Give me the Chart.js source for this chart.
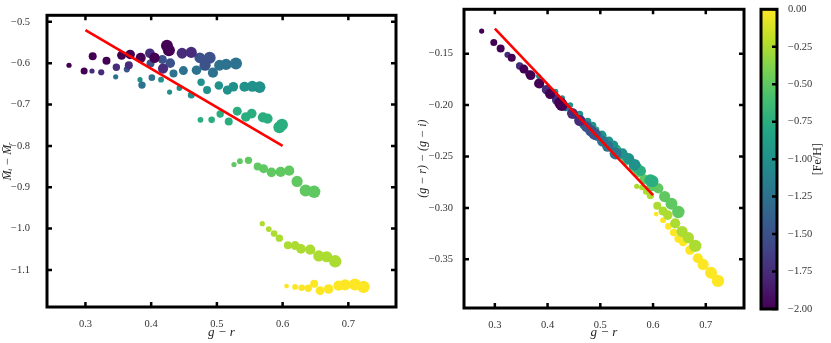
<!DOCTYPE html>
<html>
<head>
<meta charset="utf-8">
<script src="https://cdn.jsdelivr.net/npm/chart.js@4.4.1/dist/chart.umd.min.js"></script>
<style>
  html, body { margin: 0; padding: 0; background: #fff; }
  #quadro { position: relative; width: 831px; height: 343px; overflow: hidden; }
  #quadro canvas { position: absolute; top: 0; }
</style>
</head>
<body>
<div id="quadro">
  <canvas id="painelEsq" width="400" height="343" style="left:0px"></canvas>
  <canvas id="painelDir" width="355" height="343" style="left:400px"></canvas>
  <canvas id="barraCor" width="76" height="343" style="left:755px"></canvas>
</div>
<script>
// metallicity of each group of models ([Fe/H]), one row per group below
var metalicidade = [-2.0, -1.75, -1.5, -1.25, -1.0, -0.75, -0.5, -0.25, 0.0];

// g - r colour of every point (same x in both panels)
var corGR = [
  [0.275, 0.298, 0.311, 0.332, 0.355, 0.368, 0.384, 0.405, 0.424, 0.427],
  [0.310, 0.324, 0.347, 0.366, 0.398, 0.418, 0.447, 0.461],
  [0.363, 0.399, 0.417, 0.429, 0.474, 0.482, 0.489],
  [0.346, 0.386, 0.401, 0.434, 0.449, 0.469, 0.494, 0.504, 0.514, 0.529],
  [0.383, 0.415, 0.428, 0.443, 0.461, 0.476, 0.485, 0.503, 0.516, 0.525, 0.542, 0.554, 0.565],
  [0.475, 0.492, 0.505, 0.518, 0.531, 0.544, 0.553, 0.570, 0.577, 0.595, 0.599],
  [0.526, 0.535, 0.548, 0.562, 0.571, 0.583, 0.597, 0.610, 0.622, 0.635, 0.648],
  [0.569, 0.579, 0.587, 0.595, 0.608, 0.619, 0.628, 0.642, 0.655, 0.667, 0.680],
  [0.606, 0.619, 0.629, 0.639, 0.648, 0.657, 0.670, 0.685, 0.695, 0.710, 0.723]
];

// left panel: M_i - M_r
var deltaM = [
  [-0.605, -0.619, -0.583, -0.594, -0.581, -0.579, -0.587, -0.587, -0.558, -0.569],
  [-0.619, -0.622, -0.610, -0.605, -0.576, -0.613, -0.576, -0.574],
  [-0.615, -0.601, -0.591, -0.600, -0.587, -0.605, -0.587],
  [-0.633, -0.653, -0.635, -0.625, -0.618, -0.617, -0.623, -0.605, -0.603, -0.601],
  [-0.640, -0.640, -0.670, -0.660, -0.677, -0.646, -0.665, -0.654, -0.665, -0.657, -0.657, -0.656, -0.658],
  [-0.737, -0.737, -0.723, -0.741, -0.716, -0.730, -0.722, -0.731, -0.734, -0.755, -0.749],
  [-0.845, -0.837, -0.835, -0.850, -0.855, -0.864, -0.863, -0.860, -0.886, -0.908, -0.911],
  [-0.988, -1.001, -1.012, -1.023, -1.040, -1.041, -1.049, -1.051, -1.066, -1.068, -1.079],
  [-1.139, -1.141, -1.143, -1.144, -1.133, -1.150, -1.146, -1.138, -1.136, -1.135, -1.141]
];

// right panel: (g - r) - (g - i)
var deltaCor = [
  [-0.128, -0.139, -0.145, -0.154, -0.165, -0.171, -0.179, -0.189, -0.198, -0.200],
  [-0.144, -0.151, -0.162, -0.170, -0.185, -0.195, -0.208, -0.215],
  [-0.169, -0.186, -0.194, -0.200, -0.221, -0.225, -0.228],
  [-0.161, -0.180, -0.187, -0.202, -0.209, -0.219, -0.230, -0.235, -0.240, -0.247],
  [-0.172, -0.187, -0.193, -0.200, -0.209, -0.216, -0.220, -0.229, -0.235, -0.239, -0.247, -0.252, -0.258],
  [-0.216, -0.224, -0.230, -0.237, -0.243, -0.249, -0.253, -0.261, -0.264, -0.273, -0.274],
  [-0.244, -0.248, -0.255, -0.261, -0.266, -0.272, -0.279, -0.281, -0.289, -0.296, -0.304],
  [-0.279, -0.280, -0.284, -0.288, -0.298, -0.303, -0.307, -0.315, -0.323, -0.329, -0.337],
  [-0.306, -0.312, -0.318, -0.324, -0.330, -0.333, -0.341, -0.349, -0.355, -0.363, -0.371]
];

// marker radius of every point (px)
var raioPonto = [
  [2.6, 3.5, 4, 4, 4.5, 4.8, 5.1, 5.2, 6, 6],
  [2.6, 3.1, 3.7, 4, 4.8, 5.1, 5.4, 5.6],
  [3.1, 4, 4.5, 4.8, 5.4, 5.6, 6],
  [2.6, 3.7, 3.3, 4, 4.5, 4.8, 5.1, 5.4, 5.6, 6],
  [2.6, 2.9, 2.6, 2.9, 3.5, 3.7, 4, 4.3, 4.6, 4.8, 5.1, 5.5, 5.8],
  [2.9, 3.3, 3.7, 4, 4.5, 4.8, 4.8, 5.1, 5.1, 6, 6],
  [2.6, 2.9, 3.7, 4, 4.5, 4.8, 5.1, 5.1, 5.6, 6, 6.2],
  [2.6, 2.9, 3.3, 3.7, 4, 4.5, 4.8, 5.1, 5.6, 5.6, 6.2],
  [2.4, 2.9, 3.3, 3.7, 4, 4.5, 4.8, 5.1, 5.6, 6, 6.2]
];

// red fitted lines (end points)
var retaGR = [0.30, 0.60];
var retaDeltaM = [-0.520, -0.800];
var retaDeltaCor = [-0.1255, -0.2875];

// tick labels
var ticksGR = [0.3, 0.4, 0.5, 0.6, 0.7];
var ticksDeltaM = [-1.1, -1.0, -0.9, -0.8, -0.7, -0.6, -0.5];
var ticksDeltaCor = [-0.35, -0.30, -0.25, -0.20, -0.15];
var ticksFeH = [-2.0, -1.75, -1.5, -1.25, -1.0, -0.75, -0.5, -0.25, 0.0];

// viridis colour map, 11 stops from 0 to 1
var viridis = ['#440154', '#482475', '#414487', '#355f8d', '#2a788e', '#21918c',
               '#22a884', '#44bf70', '#7ad151', '#bddf26', '#fde725'];

var fonteSerif = "'Liberation Serif', 'DejaVu Serif', serif";

function hexParaRgb(h) {
  return [parseInt(h.substr(1, 2), 16), parseInt(h.substr(3, 2), 16), parseInt(h.substr(5, 2), 16)];
}

function corViridis(feh) {
  var t = (feh + 2) / 2;
  t = Math.max(0, Math.min(1, t));
  var p = t * (viridis.length - 1);
  var i = Math.min(Math.floor(p), viridis.length - 2);
  var f = p - i;
  var a = hexParaRgb(viridis[i]), b = hexParaRgb(viridis[i + 1]);
  var c = a.map(function (v, k) { return Math.round(v + (b[k] - v) * f); });
  return 'rgb(' + c[0] + ',' + c[1] + ',' + c[2] + ')';
}

function comMenos(v, casas) {
  var s = Math.abs(v).toFixed(casas);
  return (v < -1e-9 ? '\u2212' : '') + s;
}

// black frame + inward ticks, like the matplotlib style
var moldura = {
  id: 'moldura',
  afterDatasetsDraw: function (chart) {
    var ctx = chart.ctx, a = chart.chartArea;
    ctx.save();
    ctx.strokeStyle = '#000';
    ctx.lineWidth = 2.5;
    ctx.beginPath();
    var sx = chart.scales.x, sy = chart.scales.y;
    if (sx && sx.options.display) {
      sx.ticks.forEach(function (t) {
        var p = sx.getPixelForValue(t.value);
        ctx.moveTo(p, a.top); ctx.lineTo(p, a.top + 5);
        ctx.moveTo(p, a.bottom); ctx.lineTo(p, a.bottom - 5);
      });
    }
    sy.ticks.forEach(function (t) {
      var p = sy.getPixelForValue(t.value);
      if (chart.config.options.ticksEsquerda !== false) {
        ctx.moveTo(a.left, p); ctx.lineTo(a.left + 5, p);
      }
      ctx.moveTo(a.right, p); ctx.lineTo(a.right - 5, p);
    });
    ctx.stroke();
    ctx.lineWidth = 3;
    ctx.strokeRect(a.left, a.top, a.right - a.left, a.bottom - a.top);
    ctx.restore();
  }
};

function montarDatasets(yGrupos, retaY) {
  var ds = [];
  for (var g = 0; g < metalicidade.length; g++) {
    var pts = corGR[g].map(function (x, i) { return { x: x, y: yGrupos[g][i] }; });
    ds.push({
      type: 'scatter',
      data: pts,
      pointRadius: raioPonto[g],
      pointHoverRadius: raioPonto[g],
      backgroundColor: corViridis(metalicidade[g]),
      pointBorderWidth: 0,
      borderWidth: 0,
      order: 1
    });
  }
  ds.push({
    type: 'line',
    data: retaGR.map(function (x, i) { return { x: x, y: retaY[i] }; }),
    borderColor: '#ff0000',
    borderWidth: 2.6,
    pointRadius: 0,
    fill: false,
    order: 0
  });
  return ds;
}

function eixoX(alturaEixo) {
  return {
    type: 'linear', min: 0.2415, max: 0.7725,
    afterBuildTicks: function (s) { s.ticks = ticksGR.map(function (v) { return { value: v }; }); },
    afterFit: function (s) { s.height = alturaEixo; },
    grid: { display: false }, border: { display: false },
    ticks: { color: '#333', padding: 3, font: { family: fonteSerif, size: 10.5 },
             callback: function (v) { return v.toFixed(1); } },
    title: { display: true, text: 'g \u2212 r', color: '#222',
             font: { family: fonteSerif, size: 13, style: 'italic' }, padding: { top: 0, bottom: 3 } }
  };
}

// left panel
new Chart(document.getElementById('painelEsq').getContext('2d'), {
  type: 'scatter',
  data: { datasets: montarDatasets(deltaM, retaDeltaM) },
  options: {
    responsive: false, animation: false, events: [],
    layout: { autoPadding: false, padding: { left: 0, right: 4, top: 5, bottom: 0 } },
    plugins: { legend: { display: false }, tooltip: { enabled: false } },
    scales: {
      x: eixoX(36),
      y: {
        type: 'linear', min: -1.1895, max: -0.4843,
        afterBuildTicks: function (s) { s.ticks = ticksDeltaM.map(function (v) { return { value: v }; }); },
        afterFit: function (s) { s.width = 47; },
        grid: { display: false }, border: { display: false },
        ticks: { color: '#333', padding: 9, font: { family: fonteSerif, size: 10.5 },
                 callback: function (v) { return comMenos(v, 1); } },
        title: { display: true, text: 'M\u0304\u1D62 \u2212 M\u0304\u1D63', color: '#222',
                 font: { family: fonteSerif, size: 12, style: 'italic' }, padding: { top: 1, bottom: 0 } }
      }
    }
  },
  plugins: [moldura]
});

// right panel
new Chart(document.getElementById('painelDir').getContext('2d'), {
  type: 'scatter',
  data: { datasets: montarDatasets(deltaCor, retaDeltaCor) },
  options: {
    responsive: false, animation: false, events: [],
    layout: { autoPadding: false, padding: { left: 0, right: 11, top: 5, bottom: 0 } },
    plugins: { legend: { display: false }, tooltip: { enabled: false } },
    scales: {
      x: eixoX(35),
      y: {
        type: 'linear', min: -0.3974, max: -0.1068,
        afterBuildTicks: function (s) { s.ticks = ticksDeltaCor.map(function (v) { return { value: v }; }); },
        afterFit: function (s) { s.width = 64; },
        grid: { display: false }, border: { display: false },
        ticks: { color: '#333', padding: 3, font: { family: fonteSerif, size: 10.5 },
                 callback: function (v) { return comMenos(v, 2); } },
        title: { display: true, text: '(g \u2212 r) \u2212 (g \u2212 i)', color: '#222',
                 font: { family: fonteSerif, size: 12, style: 'italic' }, padding: { top: 16, bottom: 0 } }
      }
    }
  },
  plugins: [moldura]
});

// colour bar: gradient painted inside the chart area, ticks from the y scale
var gradienteBarra = {
  id: 'gradienteBarra',
  beforeDatasetsDraw: function (chart) {
    var ctx = chart.ctx, a = chart.chartArea;
    var grad = ctx.createLinearGradient(0, a.bottom, 0, a.top);
    viridis.forEach(function (c, i) { grad.addColorStop(i / (viridis.length - 1), c); });
    ctx.save();
    ctx.fillStyle = grad;
    ctx.fillRect(a.left, a.top, a.right - a.left, a.bottom - a.top);
    ctx.restore();
  },
  afterDraw: function (chart) {
    var ctx = chart.ctx, a = chart.chartArea;
    ctx.save();
    ctx.translate(63, (a.top + a.bottom) / 2);
    ctx.rotate(-Math.PI / 2);
    ctx.fillStyle = '#222';
    ctx.font = '12px ' + fonteSerif;
    ctx.textAlign = 'center';
    ctx.textBaseline = 'middle';
    ctx.fillText('[Fe/H]', 0, 0);
    ctx.restore();
  }
};

new Chart(document.getElementById('barraCor').getContext('2d'), {
  type: 'scatter',
  data: { datasets: [] },
  options: {
    responsive: false, animation: false, events: [],
    ticksEsquerda: false,
    layout: { autoPadding: false, padding: { left: 6, right: 0, top: 7, bottom: 34 } },
    plugins: { legend: { display: false }, tooltip: { enabled: false } },
    scales: {
      x: { display: false, min: 0, max: 1 },
      y: {
        type: 'linear', position: 'right', min: -2, max: 0,
        afterBuildTicks: function (s) { s.ticks = ticksFeH.map(function (v) { return { value: v }; }); },
        afterFit: function (s) { s.width = 54; },
        grid: { display: false }, border: { display: false },
        ticks: { color: '#333', padding: 3, font: { family: fonteSerif, size: 10.5 },
                 callback: function (v) { return comMenos(v, 2); } }
      }
    }
  },
  plugins: [gradienteBarra, moldura]
});
</script>
</body>
</html>
